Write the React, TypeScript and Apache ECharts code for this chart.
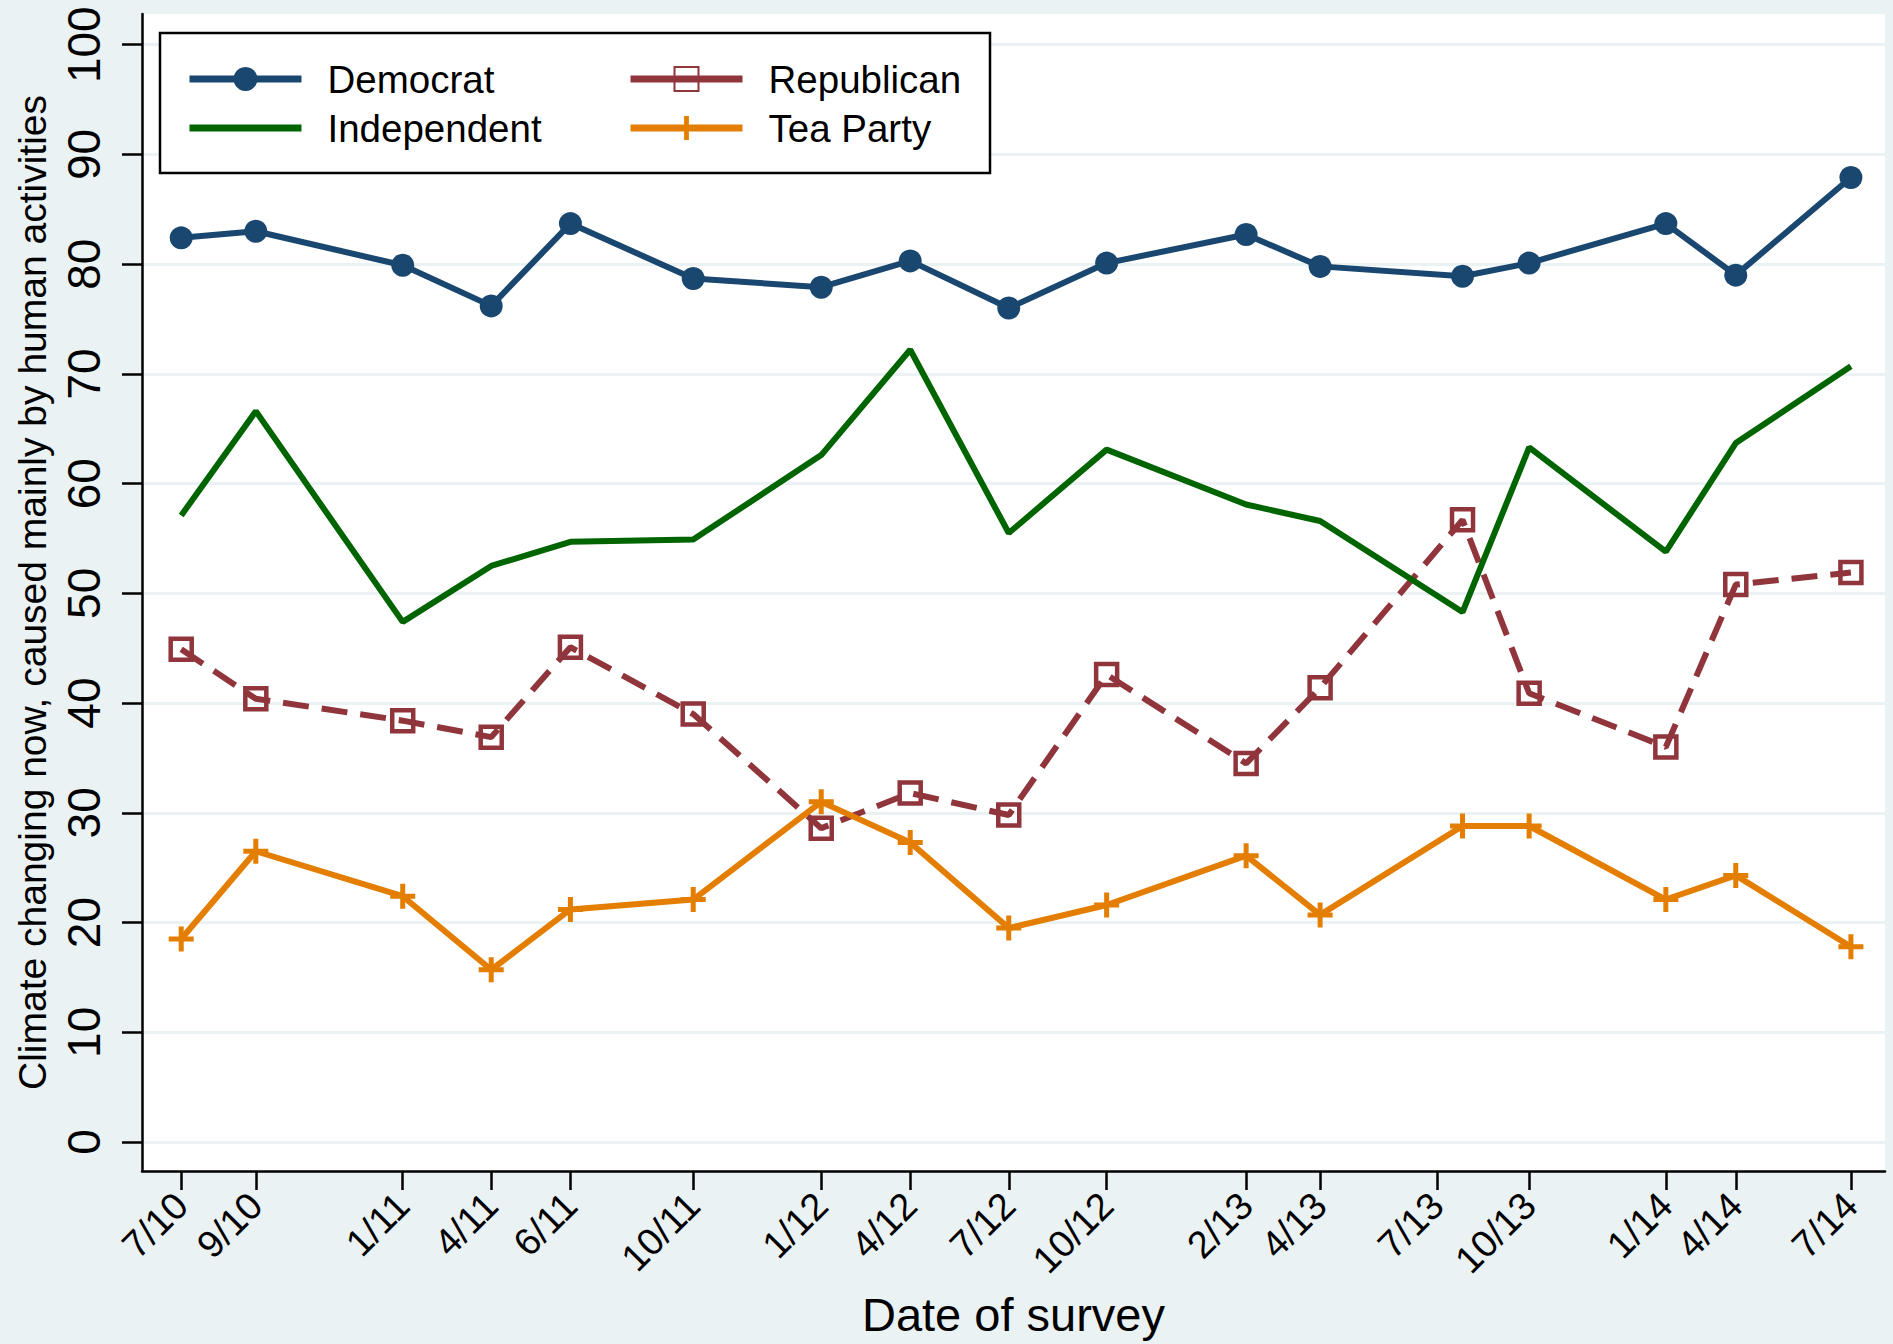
import React, { useEffect, useRef } from "react";
import * as echarts from "echarts";

// x position of each survey, in months since Jan 2010
const surveyX = [6.0, 8.145, 12.368, 14.912, 17.189, 20.719, 24.399, 26.957, 29.79, 32.604, 36.614, 38.741, 42.835, 44.75, 48.68, 50.69, 54.0];
// tick positions and labels on the x axis
const tickX = [6.0, 8.145, 12.368, 14.912, 17.189, 20.719, 24.399, 26.957, 29.79, 32.604, 36.614, 38.741, 42.099, 44.75, 48.68, 50.69, 54.0];
const tickLabels = ["7/10", "9/10", "1/11", "4/11", "6/11", "10/11", "1/12", "4/12", "7/12", "10/12", "2/13", "4/13", "7/13", "10/13", "1/14", "4/14", "7/14"];
const yTicks = [0, 10, 20, 30, 40, 50, 60, 70, 80, 90, 100];

const democrat = [82.4, 83.0, 79.9, 76.2, 83.7, 78.7, 77.9, 80.3, 76.0, 80.1, 82.7, 79.8, 78.9, 80.1, 83.7, 79.0, 87.9];
const independent = [57.1, 66.6, 47.4, 52.5, 54.7, 54.9, 62.6, 72.2, 55.5, 63.1, 58.1, 56.6, 48.3, 63.3, 53.8, 63.7, 70.7];
const republican = [44.9, 40.4, 38.4, 36.9, 45.1, 39.0, 28.6, 31.8, 29.8, 42.6, 34.5, 41.4, 56.7, 40.9, 36.0, 50.8, 51.9];
const teaParty = [18.5, 26.5, 22.4, 15.7, 21.2, 22.1, 31.0, 27.3, 19.5, 21.6, 26.1, 20.7, 28.8, 28.8, 22.1, 24.3, 17.8];

const FONT = "'Liberation Sans', Arial, sans-serif";
const BG = "#eaf2f3";
const PLUS = "path://M-2,-10 H2 V-2 H10 V2 H2 V10 H-2 V2 H-10 V-2 H-2 Z";
const BAR = "path://M0,0 H112 V7 H0 Z";

const pairs = (ys: number[]) => ys.map((v, i) => [surveyX[i], v]);

export default function App() {
  const ref = useRef<HTMLDivElement>(null);
  useEffect(() => {
    const chart = echarts.init(ref.current!, null, { renderer: "svg" });
    const legendText = { fontFamily: FONT, fontSize: 38.5, color: "#000", lineHeight: 40, padding: [0, 0, 0, 21] };
    const legendCommon = {
      z: 20,
      orient: "vertical",
      top: 54,
      itemWidth: 112,
      itemHeight: 30,
      itemGap: 9,
      textStyle: legendText,
      lineStyle: { width: 7, type: "solid" },
    };
    chart.setOption({
      animation: false,
      backgroundColor: BG,
      grid: {
        left: 142,
        right: 8,
        top: 14,
        bottom: 173,
        show: true,
        backgroundColor: "#ffffff",
        borderWidth: 0,
        containLabel: false,
      },
      xAxis: {
        type: "value",
        min: 4.873,
        max: 54.98,
        name: "Date of survey",
        nameLocation: "middle",
        nameGap: 120,
        nameTextStyle: { fontFamily: FONT, fontSize: 47, color: "#000" },
        axisLine: { show: true, onZero: false, lineStyle: { color: "#000", width: 2.5 } },
        axisTick: { show: true, length: 19, customValues: tickX, lineStyle: { color: "#000", width: 2.5 } },
        axisLabel: {
          show: true,
          customValues: tickX,
          rotate: 45,
          margin: 28,
          fontFamily: FONT,
          fontSize: 38,
          color: "#000",
          formatter: (v: number) => {
            const i = tickX.findIndex((t) => Math.abs(t - v) < 1e-6);
            return i >= 0 ? tickLabels[i] : "";
          },
        },
        splitLine: { show: false },
      },
      yAxis: {
        type: "value",
        min: -2.64,
        max: 102.8,
        name: "Climate changing now, caused mainly by human activities",
        nameLocation: "middle",
        nameGap: 90,
        nameRotate: 90,
        nameTextStyle: { fontFamily: FONT, fontSize: 39, color: "#000" },
        axisLine: { show: true, onZero: false, lineStyle: { color: "#000", width: 2.5 } },
        axisTick: { show: true, length: 20, customValues: yTicks, lineStyle: { color: "#000", width: 2.5 } },
        axisLabel: {
          show: true,
          customValues: yTicks,
          rotate: 90,
          margin: 35,
          fontFamily: FONT,
          fontSize: 46,
          color: "#000",
        },
        splitLine: { show: true, lineStyle: { color: BG, width: 3 } },
      },
      graphic: [
        {
          type: "rect",
          z: 10,
          shape: { x: 160, y: 33, width: 830, height: 140 },
          style: { fill: "#fff", stroke: "#000", lineWidth: 2.5 },
        },
      ],
      legend: [
        {
          ...legendCommon,
          left: 181,
          data: ["Democrat", { name: "Independent", icon: BAR }],
        },
        {
          ...legendCommon,
          left: 622,
          data: ["Republican", "Tea Party"],
        },
      ],
      series: [
        {
          name: "Democrat",
          type: "line",
          data: pairs(democrat),
          symbol: "circle",
          symbolSize: 23,
          lineStyle: { color: "#1a476f", width: 6 },
          itemStyle: { color: "#1a476f" },
        },
        {
          name: "Republican",
          type: "line",
          data: pairs(republican),
          symbol: "rect",
          symbolSize: 21,
          lineStyle: { color: "#90353b", width: 6, type: [26, 13] },
          itemStyle: { color: "transparent", borderColor: "#90353b", borderWidth: 4.5 },
        },
        {
          name: "Independent",
          type: "line",
          data: pairs(independent),
          symbol: "none",
          lineStyle: { color: "#006400", width: 6 },
          itemStyle: { color: "#006400" },
        },
        {
          name: "Tea Party",
          type: "line",
          data: pairs(teaParty),
          symbol: PLUS,
          symbolSize: 25,
          lineStyle: { color: "#e37e00", width: 6 },
          itemStyle: { color: "#e37e00" },
        },
      ],
    });
    return () => chart.dispose();
  }, []);
  return (
    <div
      ref={ref}
      style={{ position: "fixed", left: 0, top: 0, width: 1893, height: 1344 }}
    />
  );
}
